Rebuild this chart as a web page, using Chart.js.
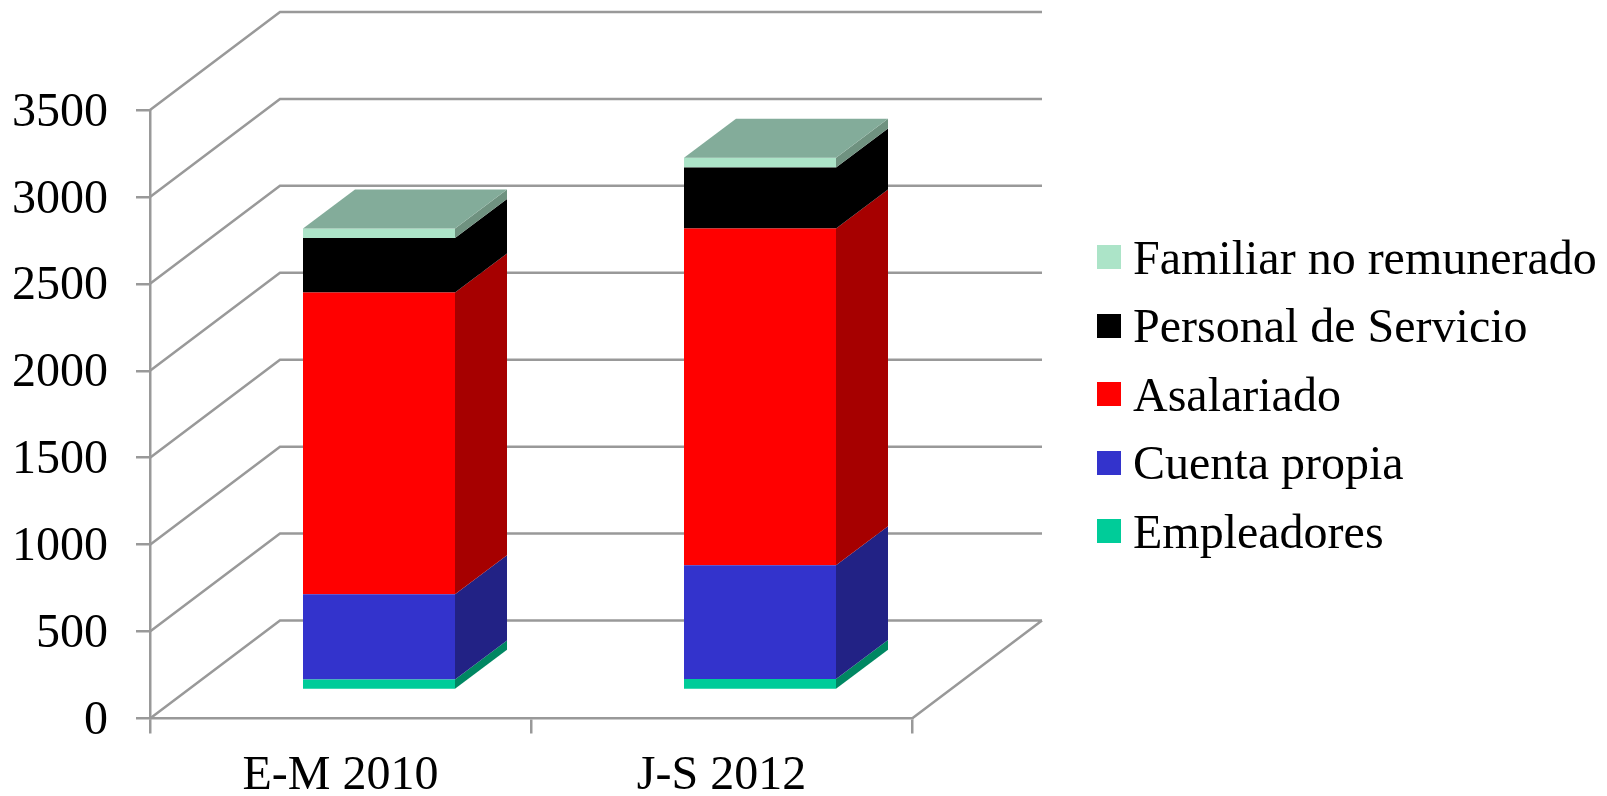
<!DOCTYPE html>
<html>
<head>
<meta charset="utf-8">
<title>Ocupados por categoría</title>
<script src="https://cdn.jsdelivr.net/npm/chart.js@4/dist/chart.umd.min.js"></script>
<style>
  html, body { margin: 0; padding: 0; background: #fff; overflow: hidden; }
  #wrap { position: relative; width: 1607px; height: 796px; }
  #legend { position: absolute; left: 1097px; top: 223px; font: 48px "Liberation Serif", serif; color: #000; }
  .row { display: flex; align-items: center; height: 68.5px; white-space: nowrap; }
  .box { width: 24px; height: 24px; margin-right: 12px; }
</style>
</head>
<body>
<div id="wrap">
  <canvas id="myChart" width="1607" height="796"></canvas>
  <div id="legend"></div>
</div>
<script>
const categories = ["E-M 2010", "J-S 2012"];
const seriesNames = ["Empleadores", "Cuenta propia", "Asalariado", "Personal de Servicio", "Familiar no remunerado"];
const empleadores = [60, 63];
const cuentaPropia = [491, 654];
const asalariado = [1736, 1937];
const personalServicio = [313, 351];
const familiar = [54, 57];
const seriesValues = [empleadores, cuentaPropia, asalariado, personalServicio, familiar];

const frontColors = ["#00CC99", "#3333CC", "#FF0000", "#000000", "#ACE4C8"];
const sideColors = ["#008762", "#222285", "#A60000", "#000000", "#6F9280"];
const topColor = "#83AC9A";
const lineColor = "#999999";
const font = { family: "'Liberation Serif', serif", size: 48 };

// depth of the walls and of the bars, and where the bars stand on the floor
const wallDepth = { x: 130, y: 98 };
const barDepth = { x: 52, y: 39 };
const barShift = { x: 38.5, y: 28.5 };

const walls3d = {
    id: "walls3d",
    beforeDatasetsDraw(chart) {
        const { ctx, chartArea, scales } = chart;
        ctx.save();
        ctx.strokeStyle = lineColor;
        ctx.lineWidth = 2.5;
        ctx.beginPath();
        scales.y.ticks.forEach(tick => {
            const y = scales.y.getPixelForValue(tick.value);
            ctx.moveTo(chartArea.left, y);
            ctx.lineTo(chartArea.left + wallDepth.x, y - wallDepth.y);
            ctx.lineTo(chartArea.right + wallDepth.x, y - wallDepth.y);
        });
        ctx.moveTo(chartArea.right, chartArea.bottom);
        ctx.lineTo(chartArea.right + wallDepth.x, chartArea.bottom - wallDepth.y);
        ctx.stroke();
        ctx.restore();

        // bars are drawn by the library, moved back onto the floor
        ctx.save();
        ctx.translate(barShift.x, -barShift.y);
    },
    afterDatasetsDraw(chart) {
        const { ctx } = chart;
        const last = seriesNames.length - 1;
        seriesNames.forEach((name, i) => {
            chart.getDatasetMeta(i).data.forEach(bar => {
                const right = bar.x + bar.width / 2;
                const left = bar.x - bar.width / 2;
                ctx.fillStyle = sideColors[i];
                ctx.beginPath();
                ctx.moveTo(right, bar.y);
                ctx.lineTo(right + barDepth.x, bar.y - barDepth.y);
                ctx.lineTo(right + barDepth.x, bar.base - barDepth.y);
                ctx.lineTo(right, bar.base);
                ctx.closePath();
                ctx.fill();
                if (i === last) {
                    ctx.fillStyle = topColor;
                    ctx.beginPath();
                    ctx.moveTo(left, bar.y);
                    ctx.lineTo(left + barDepth.x, bar.y - barDepth.y);
                    ctx.lineTo(right + barDepth.x, bar.y - barDepth.y);
                    ctx.lineTo(right, bar.y);
                    ctx.closePath();
                    ctx.fill();
                }
            });
        });
        ctx.restore();
    }
};

new Chart(document.getElementById("myChart"), {
    type: "bar",
    plugins: [walls3d],
    data: {
        labels: categories,
        datasets: seriesNames.map((name, i) => ({
            label: name,
            data: seriesValues[i],
            backgroundColor: frontColors[i],
            borderWidth: 0,
            clip: false
        }))
    },
    options: {
        responsive: false,
        animation: false,
        barPercentage: 1,
        categoryPercentage: 152 / 381,
        layout: { padding: { top: 110, right: 695, left: 0, bottom: 0 } },
        plugins: { legend: { display: false }, tooltip: { enabled: false } },
        scales: {
            x: {
                stacked: true,
                afterFit(scale) { scale.height = 77.5; },
                border: { color: lineColor, width: 2.5 },
                grid: { drawOnChartArea: false, color: lineColor, tickColor: lineColor, tickLength: 15, lineWidth: 2.5 },
                ticks: { color: "#000", font: font, padding: 14, maxRotation: 0 }
            },
            y: {
                stacked: true,
                min: 0,
                max: 3500,
                afterFit(scale) { scale.width = 150; },
                border: { color: lineColor, width: 2.5 },
                grid: { drawOnChartArea: false, color: lineColor, tickColor: lineColor, tickLength: 14, lineWidth: 2.5 },
                ticks: { color: "#000", font: font, stepSize: 500, padding: 28, labelOffset: 3, callback: value => String(value) }
            }
        }
    }
});

// legend, top series first
const legend = document.getElementById("legend");
seriesNames.map((name, i) => i).reverse().forEach(i => {
    const row = document.createElement("div");
    row.className = "row";
    const box = document.createElement("div");
    box.className = "box";
    box.style.background = frontColors[i];
    const text = document.createElement("span");
    text.innerText = seriesNames[i];
    row.appendChild(box);
    row.appendChild(text);
    legend.appendChild(row);
});
</script>
</body>
</html>
